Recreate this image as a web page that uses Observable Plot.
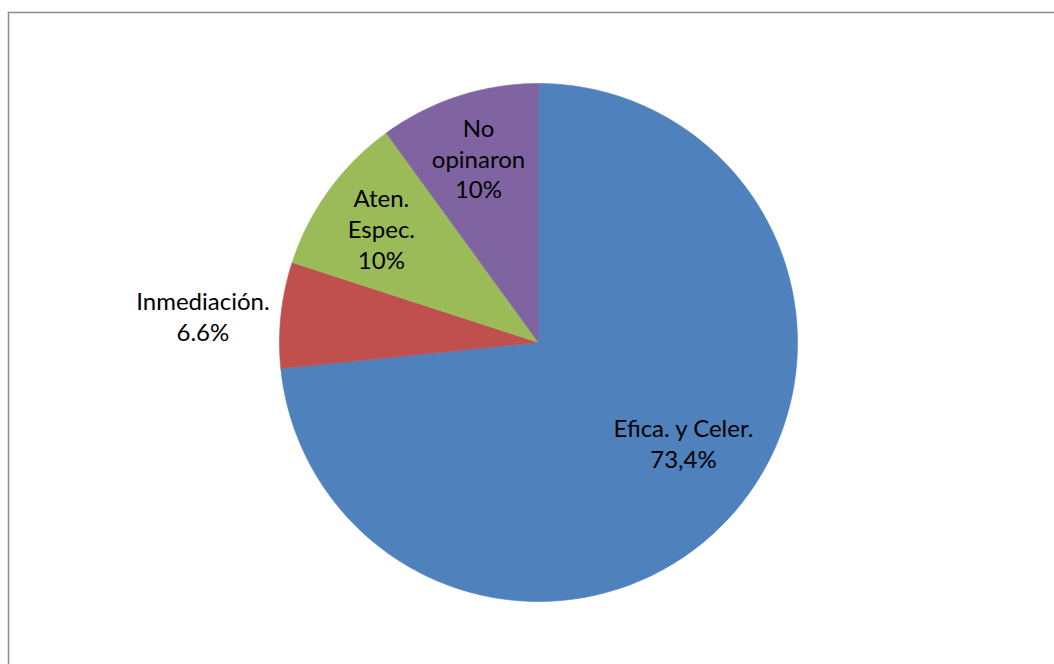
<!DOCTYPE html>
<html>
<head>
<meta charset="utf-8">
<script src="https://cdn.jsdelivr.net/npm/d3@7"></script>
<script src="https://cdn.jsdelivr.net/npm/@observablehq/plot@0.6"></script>
<style>
  body { margin: 0; background: #fff; }
  #chart svg { display: block; }
</style>
</head>
<body>
<div id="chart"></div>
<script>
// Survey answers, clockwise from twelve o'clock
const categories = ["Efica. y Celer.", "Inmediación.", "Aten. Espec.", "No opinaron"];
const shares = [73.4, 6.6, 10, 10];
const valueLabels = ["73,4%", "6.6%", "10%", "10%"];
const nameLines = [["Efica. y Celer."], ["Inmediación."], ["Aten.", "Espec."], ["No", "opinaron"]];
const colors = ["#4F81BD", "#C0504D", "#9BBB59", "#8064A2"];

// Angles (radians, clockwise from the top) for each wedge
const total = d3.sum(shares);
let running = 0;
const wedges = categories.map((category, i) => {
  const a0 = (running / total) * 2 * Math.PI;
  running += shares[i];
  const a1 = (running / total) * 2 * Math.PI;
  return {category, a0, a1, i};
});

// Outline of every wedge in unit-circle coordinates (y up)
const outline = wedges.flatMap(({category, a0, a1}) => {
  const steps = Math.max(4, Math.ceil(((a1 - a0) * 180) / Math.PI));
  const pts = [{category, x: 0, y: 0}];
  for (let k = 0; k <= steps; ++k) {
    const a = a0 + ((a1 - a0) * k) / steps;
    pts.push({category, x: Math.sin(a), y: Math.cos(a)});
  }
  pts.push({category, x: 0, y: 0});
  return pts;
});

// Label anchors: inside wedges at 0.75 r on the mid angle; the large wedge
// and the thin red wedge get their own placement
const placement = {
  "Efica. y Celer.": {deg: 124.6, r: 0.68},
  "Inmediación.": {deg: 274.6, r: 1.30}
};
const labels = wedges.map(({category, a0, a1, i}) => {
  const p = placement[category];
  const a = p ? (p.deg * Math.PI) / 180 : (a0 + a1) / 2;
  const r = p ? p.r : 0.75;
  return {
    category,
    x: r * Math.sin(a),
    y: r * Math.cos(a),
    text: [...nameLines[i], valueLabels[i]].join("\n")
  };
});

const cx = 538, cy = 342, R = 259;
const frameStyle = {stroke: "#8c8c8c", strokeWidth: 1.5};

const chart = Plot.plot({
  width: 1054,
  height: 664,
  marginTop: 12,
  marginLeft: 8,
  marginRight: 0,
  marginBottom: 0,
  style: {fontFamily: "Lato, sans-serif", background: "#fff"},
  x: {domain: [-1, 1], range: [cx - R, cx + R], axis: null},
  y: {domain: [-1, 1], range: [cy + R, cy - R], axis: null},
  color: {domain: categories, range: colors},
  marks: [
    Plot.frame({anchor: "left", ...frameStyle}),
    Plot.frame({anchor: "top", ...frameStyle}),
    Plot.line(outline, {
      x: "x",
      y: "y",
      z: "category",
      fill: "category",
      stroke: "category",
      strokeWidth: 0.6,
      curve: "linear"
    }),
    Plot.text(labels, {
      x: "x",
      y: "y",
      text: "text",
      fontSize: 24,
      lineHeight: 1.28,
      fill: "#000",
      textAnchor: "middle"
    })
  ]
});

document.getElementById("chart").append(chart);
</script>
</body>
</html>
